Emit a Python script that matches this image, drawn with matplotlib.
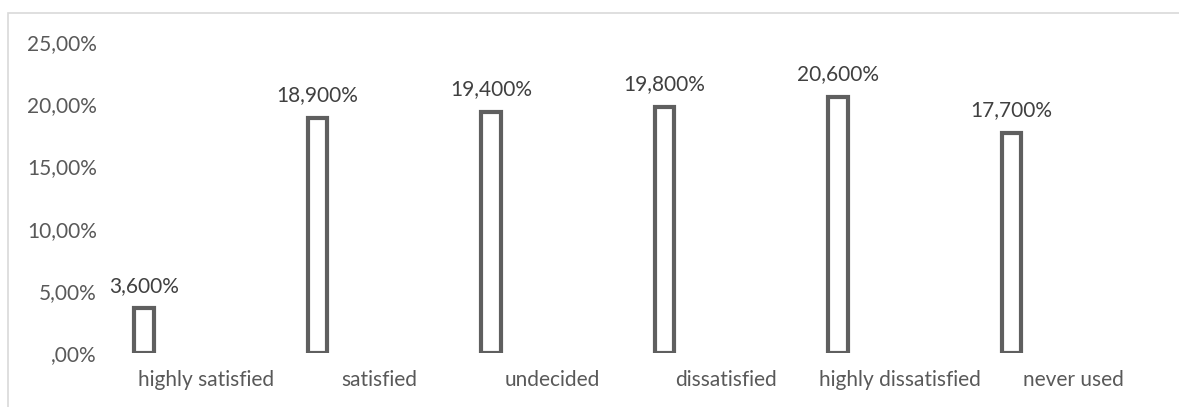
import matplotlib.pyplot as plt
from matplotlib.patches import Rectangle
from matplotlib.ticker import FuncFormatter, MultipleLocator
import numpy as np

categories = ["highly satisfied", "satisfied", "undecided", "dissatisfied",
              "highly dissatisfied", "never used"]
shares = [3.6, 18.9, 19.4, 19.8, 20.6, 17.7]
value_labels = ["3,600%", "18,900%", "19,400%", "19,800%", "20,600%", "17,700%"]

plt.rcParams['font.family'] = ['Lato', 'DejaVu Sans']
text_color = '#595959'

fig = plt.figure(figsize=(11.79, 4.07), dpi=100)

# light frame around the chart area
fig.patches.append(Rectangle((8 / 1179, -0.1), 1.2, (407 - 13) / 407 + 0.1,
                             transform=fig.transFigure, fill=False,
                             edgecolor='#d9d9d9', linewidth=1.2))

ax = fig.add_axes([119 / 1179, 54 / 407, 1041 / 1179, 311 / 407])

x = np.arange(len(categories))
bar_x = x - 0.356
bars = ax.bar(bar_x, shares, width=0.11, facecolor='white',
              edgecolor='#5f5f5f', linewidth=3)

for bx, v, lab in zip(bar_x, shares, value_labels):
    ax.annotate(lab, (bx, v), xytext=(0, 9), textcoords='offset points',
                ha='center', va='bottom', fontsize=15, color='#404040')

ax.set_xlim(-0.5, len(categories) - 0.5)
ax.set_ylim(0, 25)
ax.yaxis.set_major_locator(MultipleLocator(5))
ax.yaxis.set_major_formatter(FuncFormatter(
    lambda v, p: ",00%" if v == 0 else f"{int(v)},00%"))
ax.set_xticks(x)
ax.set_xticklabels(categories)

ax.tick_params(axis='y', length=0, pad=16, labelsize=15, labelcolor=text_color)
ax.tick_params(axis='x', length=0, pad=12, labelsize=15, labelcolor=text_color)
for s in ax.spines.values():
    s.set_visible(False)

fig.savefig("out.png", dpi=100)
